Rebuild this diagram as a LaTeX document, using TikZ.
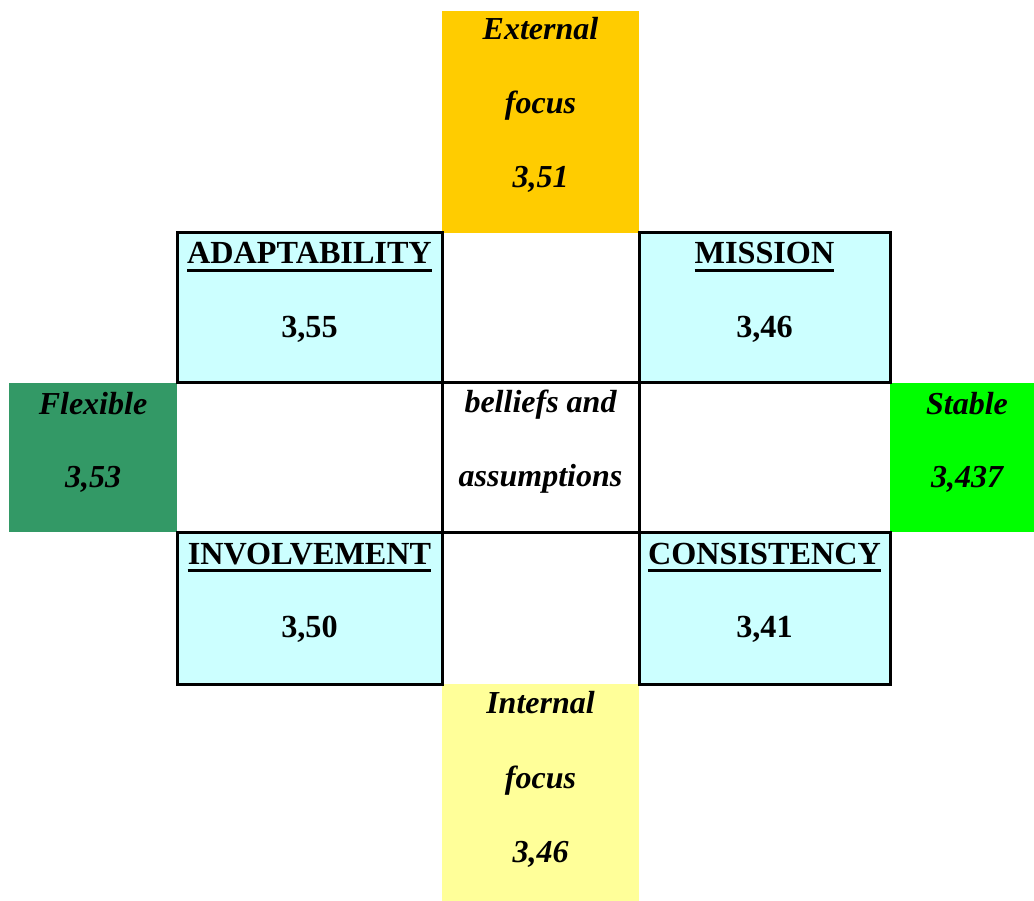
\documentclass[tikz,border=0pt]{standalone}
\usepackage{fontspec}
\setmainfont{Liberation Serif}
\definecolor{extorange}{HTML}{FFCC00}
\definecolor{cellcyan}{HTML}{CCFFFF}
\definecolor{flexgreen}{HTML}{339966}
\definecolor{stablegreen}{HTML}{00FF00}
\definecolor{intyellow}{HTML}{FFFF99}
\begin{document}
\begin{tikzpicture}[x=1pt,y=-1pt,
  cellbox/.style={anchor=north west, inner sep=0pt, outer sep=0pt, draw=none},
  framed/.style={cellbox, draw=black, line width=3pt},
  grid/.style={line width=3pt, black},
  hd/.style={inner sep=0pt, anchor=base, font=\fontsize{32.2}{38}\selectfont\bfseries},
  it/.style={inner sep=0pt, anchor=base, font=\fontsize{32}{38}\selectfont\bfseries\itshape},
  uline/.style={line width=3pt, black}]
\useasboundingbox (0,0) rectangle (1034,901);

% coloured side cells
\node[cellbox, fill=extorange, minimum width=197pt, minimum height=222pt] (ext) at (442,11) {};
\node[cellbox, fill=intyellow, minimum width=197pt, minimum height=217pt] (int) at (442,684) {};
\node[cellbox, fill=flexgreen, minimum width=168pt, minimum height=149pt] (flex) at (9,383) {};
\node[cellbox, fill=stablegreen, minimum width=150pt, minimum height=149pt] (stab) at (890,383) {};
\node[cellbox, minimum width=197pt, minimum height=149pt] (core) at (442,383) {};

% the four culture traits
\node[framed, fill=cellcyan, minimum width=265pt, minimum height=150pt] (adapt) at (177,233) {};
\node[framed, fill=cellcyan, minimum width=251pt, minimum height=150pt] (miss) at (639,233) {};
\node[framed, fill=cellcyan, minimum width=265pt, minimum height=152pt] (invol) at (177,532) {};
\node[framed, fill=cellcyan, minimum width=251pt, minimum height=152pt] (cons) at (639,532) {};

% inner grid lines around the core cell
\draw[grid] (adapt.north east) -- (invol.south east);
\draw[grid] (miss.north west) -- (cons.south west);
\draw[grid] (adapt.south west) -- (miss.south east);
\draw[grid] (invol.north west) -- (cons.north east);

% external focus
\node[it] (extA) at (540.5,40) {External};
\node[it] (extB) at (540.5,114) {focus};
\node[it] (extC) at (540.5,188) {3,51};

% internal focus
\node[it] (intA) at (540.5,713) {Internal};
\node[it] (intB) at (540.5,788) {focus};
\node[it] (intC) at (540.5,862) {3,46};

% flexible / stable
\node[it] (flexA) at (93,414) {Flexible};
\node[it] (flexB) at (93,487) {3,53};
\node[it] (stabA) at (967,414) {Stable};
\node[it] (stabB) at (967,487) {3,437};

% core
\node[it] (coreA) at (540.5,413) {belliefs and};
\node[it] (coreB) at (540.5,486) {assumptions};

% trait headings and scores
\node[hd] (adaptH) at (309.5,264) {ADAPTABILITY};
\node[hd] (adaptV) at (309.5,338) {3,55};
\node[hd] (missH) at (764.5,264) {MISSION};
\node[hd] (missV) at (764.5,338) {3,46};
\node[hd] (involH) at (309.5,564) {INVOLVEMENT};
\node[hd] (involV) at (309.5,637) {3,50};
\node[hd] (consH) at (764.5,564) {CONSISTENCY};
\node[hd] (consV) at (764.5,637) {3,41};

% underlines of the headings
\foreach \h in {adaptH,missH,involH,consH}
  \draw[uline] ([yshift=-6.5pt]\h.base west) -- ([yshift=-6.5pt]\h.base east);
\end{tikzpicture}
\end{document}
